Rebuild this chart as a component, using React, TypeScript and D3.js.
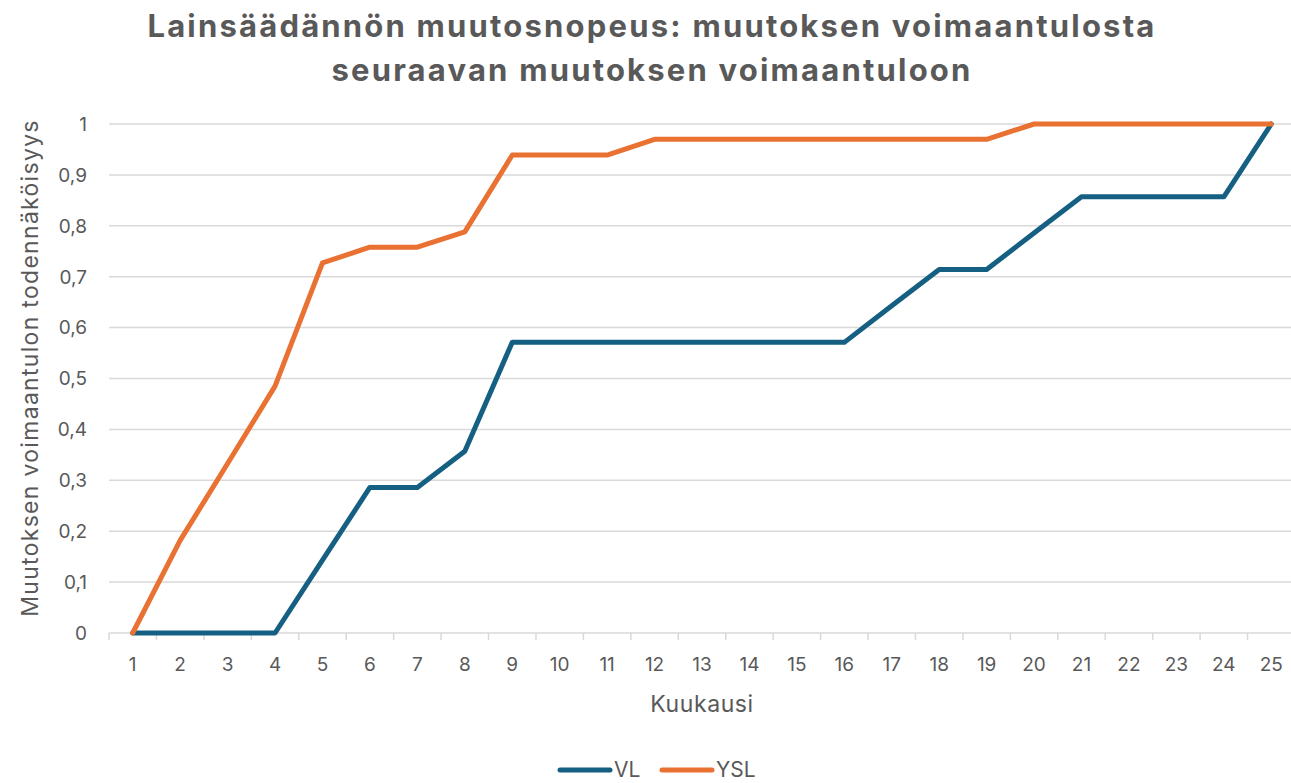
import * as d3 from "d3"
import { useEffect } from "react"

const months = ["1", "2", "3", "4", "5", "6", "7", "8", "9", "10", "11", "12", "13", "14", "15", "16", "17", "18", "19", "20", "21", "22", "23", "24", "25"]

const vlValues = [0, 0, 0, 0, 0.143, 0.286, 0.286, 0.357, 0.571, 0.571, 0.571, 0.571, 0.571, 0.571, 0.571, 0.571, 0.643, 0.714, 0.714, 0.786, 0.857, 0.857, 0.857, 0.857, 1]
const yslValues = [0, 0.182, 0.333, 0.485, 0.727, 0.758, 0.758, 0.788, 0.939, 0.939, 0.939, 0.97, 0.97, 0.97, 0.97, 0.97, 0.97, 0.97, 0.97, 1, 1, 1, 1, 1, 1]

const yTicks = [0, 0.1, 0.2, 0.3, 0.4, 0.5, 0.6, 0.7, 0.8, 0.9, 1]

const series = [
    { name: "VL", values: vlValues, color: "#156082" },
    { name: "YSL", values: yslValues, color: "#E97132" },
]

const width = 1291
const height = 783
const margin = { top: 124, right: -4, bottom: 150, left: 109 }
const textColor = "#595959"
const font = "Inter, 'Liberation Sans', sans-serif"

export default function App() {
    useEffect(() => {
        document.body.style.margin = "0"
    }, [])

    const x = d3
        .scaleBand<string>()
        .domain(months)
        .range([margin.left, width - margin.right])
        .padding(0)

    const y = d3
        .scaleLinear()
        .domain([0, 1])
        .range([height - margin.bottom, margin.top])

    const cx = (i: number) => (x(months[i]) ?? 0) + x.bandwidth() / 2

    const line = d3
        .line<number>()
        .x((_, i) => cx(i))
        .y((d) => y(d))

    const fmt = (v: number) => d3.format(".1~f")(v).replace(".", ",")
    const y0 = y(0)

    return (
        <svg width={width} height={height} style={{ display: "block", fontFamily: font }}>
            <rect width={width} height={height} fill="#ffffff" />

            {/* title */}
            <text x={652} y={37} textAnchor="middle" fontSize={31} fontWeight={700} letterSpacing={2.2} fill={textColor}>
                Lainsäädännön muutosnopeus: muutoksen voimaantulosta
            </text>
            <text x={652} y={81} textAnchor="middle" fontSize={31} fontWeight={700} letterSpacing={2.2} fill={textColor}>
                seuraavan muutoksen voimaantuloon
            </text>

            {/* grid */}
            {yTicks.map((t) => (
                <line key={t} x1={margin.left} x2={width} y1={y(t)} y2={y(t)} stroke="#D9D9D9" strokeWidth={1.5} />
            ))}
            {yTicks.map((t) => (
                <text key={"l" + t} x={87} y={y(t)} dy="0.36em" textAnchor="end" fontSize={19} fill={textColor}>
                    {fmt(t)}
                </text>
            ))}

            {/* x axis ticks */}
            {months.concat(["end"]).map((m, i) => {
                const xx = margin.left + i * x.bandwidth()
                return <line key={"t" + m} x1={xx} x2={xx} y1={y0} y2={y0 + 7} stroke="#D9D9D9" strokeWidth={1.5} />
            })}
            {months.map((m, i) => (
                <text key={"x" + m} x={cx(i)} y={671} textAnchor="middle" fontSize={19} fill={textColor}>
                    {m}
                </text>
            ))}

            <text x={702} y={712} textAnchor="middle" fontSize={23} letterSpacing={0.6} fill={textColor}>
                Kuukausi
            </text>
            <text
                transform={`translate(38,368) rotate(-90)`}
                textAnchor="middle"
                fontSize={23}
                letterSpacing={1.3}
                fill={textColor}
            >
                Muutoksen voimaantulon todennäköisyys
            </text>

            {/* lines */}
            {series.map((s) => (
                <path
                    key={s.name}
                    d={line(s.values) ?? ""}
                    fill="none"
                    stroke={s.color}
                    strokeWidth={5}
                    strokeLinejoin="round"
                    strokeLinecap="round"
                />
            ))}

            {/* legend */}
            <g>
                <line x1={560} x2={610} y1={770} y2={770} stroke={series[0].color} strokeWidth={5} strokeLinecap="round" />
                <text x={614} y={777} fontSize={21} fill={textColor}>VL</text>
                <line x1={662} x2={712} y1={770} y2={770} stroke={series[1].color} strokeWidth={5} strokeLinecap="round" />
                <text x={716} y={777} fontSize={21} fill={textColor}>YSL</text>
            </g>
        </svg>
    )
}
